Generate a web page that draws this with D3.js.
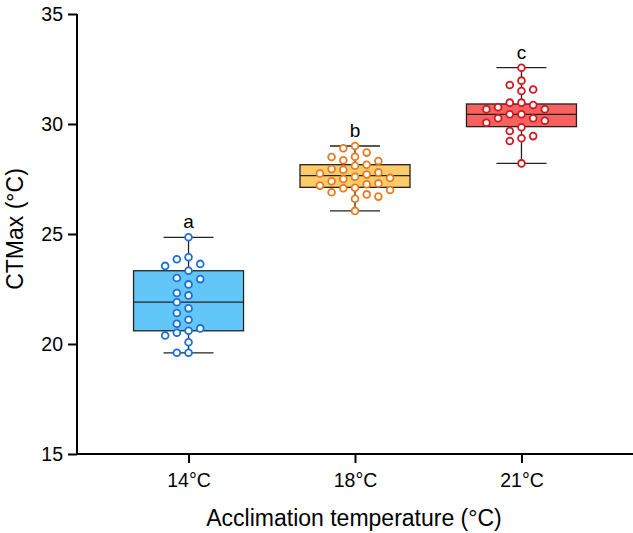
<!DOCTYPE html>
<html><head><meta charset="utf-8">
<script src="https://cdn.jsdelivr.net/npm/d3@7"></script>
<style>body{margin:0;background:#fff}svg{display:block;font-family:"Liberation Sans",Arial,sans-serif}</style>
</head><body><svg id="c" width="633" height="533"></svg>
<script>
const categories = ["14°C", "18°C", "21°C"];
const letters = ["a", "b", "c"];
const boxStats = [
  {min: 19.6, q1: 20.6, median: 21.9, q3: 23.33, max: 24.85},
  {min: 26.05, q1: 27.12, median: 27.65, q3: 28.15, max: 29.0},
  {min: 28.21, q1: 29.88, median: 30.44, q3: 30.91, max: 32.56}
];
const points14 = [24.85, 23.94, 23.85, 23.64, 23.55, 23.33, 23.0, 22.95, 22.71, 22.32, 22.21, 21.9, 21.62, 21.41, 21.1, 20.92, 20.71, 20.6, 20.51, 20.39, 20.08, 19.6, 19.6];
const points18 = [29.0, 28.9, 28.7, 28.51, 28.5, 28.35, 28.32, 28.15, 28.1, 27.95, 27.92, 27.8, 27.75, 27.7, 27.6, 27.55, 27.5, 27.4, 27.3, 27.26, 27.2, 27.1, 27.08, 27.0, 26.9, 26.8, 26.7, 26.6, 26.05];
const points21 = [32.56, 31.97, 31.77, 31.57, 31.5, 30.97, 30.97, 30.86, 30.76, 30.67, 30.67, 30.44, 30.44, 30.26, 30.26, 30.15, 30.06, 29.85, 29.68, 29.45, 29.35, 29.23, 28.21];
const yTicks = [15, 20, 25, 30, 35];
const boxFill = ["#63C6F8", "#FDCB68", "#F7615F"];
const pointStroke = ["#1A6FD9", "#EA7A20", "#D3171F"];

const svg = d3.select("#c");
const x = d3.scalePoint().domain(categories).range([77, 633]).padding(0.67);
const y = d3.scaleLinear().domain([15, 35]).range([454, 14]);
const allPoints = [points14, points18, points21];

const ya = svg.append("g").attr("transform", "translate(77,0)")
  .call(d3.axisLeft(y).tickValues(yTicks).tickSize(9).tickPadding(5));
const xa = svg.append("g").attr("transform", "translate(0,454)")
  .call(d3.axisBottom(x).tickSize(9).tickPadding(10));
[ya, xa].forEach(a => {
  a.select(".domain").attr("stroke", "#000").attr("stroke-width", 2);
  a.selectAll(".tick line").attr("stroke", "#000").attr("stroke-width", 2);
  a.selectAll(".tick text").attr("fill", "#000").attr("font-size", 19.5).attr("font-family", "Liberation Sans, Arial, sans-serif");
});
xa.select(".domain").attr("d", "M77,0H633");
ya.select(".domain").attr("d", "M0,14V455");

svg.append("text").attr("x", 354).attr("y", 526).attr("text-anchor", "middle")
  .attr("font-size", 23).text("Acclimation temperature (°C)");
svg.append("text").attr("transform", "translate(23,229) rotate(-90)").attr("text-anchor", "middle")
  .attr("font-size", 23).text("CTMax (°C)");

const boxW = 110, capW = 50;
boxStats.forEach((s, i) => {
  const cx = x(categories[i]);
  const g = svg.append("g");
  g.append("line").attr("x1", cx).attr("x2", cx).attr("y1", y(s.max)).attr("y2", y(s.min))
    .attr("stroke", "#222").attr("stroke-width", 1.3);
  [s.min, s.max].forEach(v => g.append("line").attr("x1", cx - capW/2).attr("x2", cx + capW/2)
    .attr("y1", y(v)).attr("y2", y(v)).attr("stroke", "#222").attr("stroke-width", 1.3));
  g.append("rect").attr("x", cx - boxW/2).attr("width", boxW).attr("y", y(s.q3)).attr("height", y(s.q1) - y(s.q3))
    .attr("fill", boxFill[i]).attr("stroke", "#222").attr("stroke-width", 1.3);
  g.append("line").attr("x1", cx - boxW/2).attr("x2", cx + boxW/2).attr("y1", y(s.median)).attr("y2", y(s.median))
    .attr("stroke", "#222").attr("stroke-width", 1.3);
  svg.append("text").attr("x", cx).attr("y", y(s.max) - 9).attr("text-anchor", "middle")
    .attr("font-size", 19).text(letters[i]);

  const vals = allPoints[i].slice().sort((a, b) => b - a);
  const placed = [];
  const step = 11.7, dmin = 9;
  const cands = [0, -1, 1, -2, 2, -3, 3];
  vals.forEach(v => {
    const py = y(v);
    let off = 0;
    for (const c of cands) {
      const px = c * step;
      if (placed.every(p => (p.x - px) ** 2 + (p.y - py) ** 2 >= dmin * dmin)) { off = px; break; }
    }
    placed.push({x: off, y: py});
  });
  svg.append("g").selectAll("circle").data(placed).join("circle")
    .attr("cx", d => cx + d.x).attr("cy", d => d.y).attr("r", 3.4)
    .attr("fill", "#fff").attr("stroke", pointStroke[i]).attr("stroke-width", 1.8);
});
</script></body></html>
